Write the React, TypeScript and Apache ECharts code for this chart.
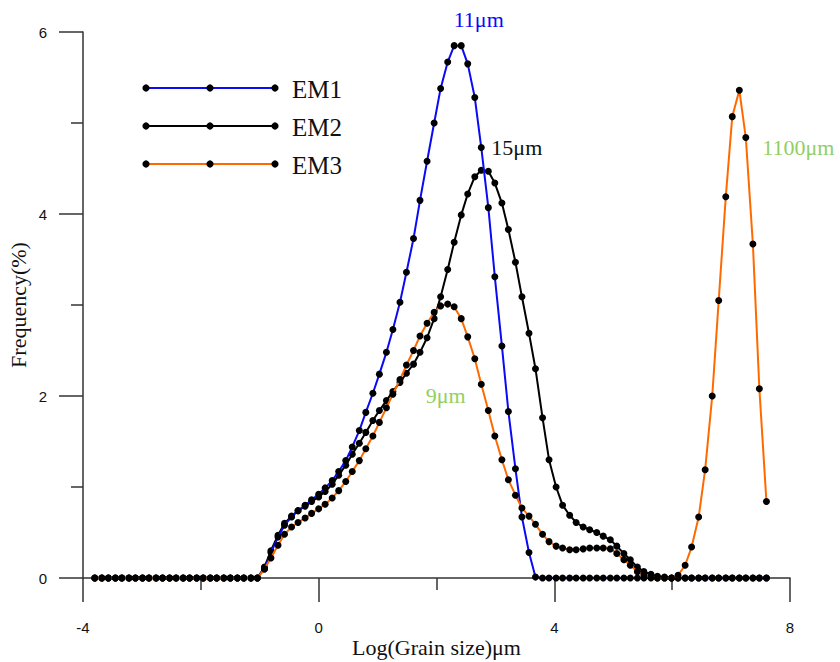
import React, { useEffect, useRef } from "react";
import * as echarts from "echarts";

// Log(grain size) bin positions (ln µm)
const xs = [
  -3.8, -3.68, -3.57, -3.45, -3.34, -3.22, -3.11, -2.99, -2.88, -2.76,
  -2.65, -2.53, -2.42, -2.3, -2.19, -2.07, -1.96, -1.84, -1.73, -1.61,
  -1.5, -1.38, -1.27, -1.15, -1.04, -0.92, -0.81, -0.69, -0.58, -0.46,
  -0.35, -0.23, -0.12, 0.0, 0.11, 0.23, 0.34, 0.46, 0.57, 0.69,
  0.8, 0.92, 1.03, 1.15, 1.26, 1.38, 1.49, 1.61, 1.72, 1.84,
  1.96, 2.07, 2.19, 2.3, 2.42, 2.53, 2.65, 2.76, 2.88, 2.99,
  3.11, 3.22, 3.34, 3.45, 3.57, 3.68, 3.8, 3.91, 4.03, 4.14,
  4.26, 4.37, 4.49, 4.6, 4.72, 4.83, 4.95, 5.06, 5.18, 5.29,
  5.41, 5.52, 5.64, 5.75, 5.87, 5.99, 6.1, 6.22, 6.33, 6.45,
  6.56, 6.68, 6.79, 6.91, 7.02, 7.14, 7.25, 7.37, 7.48, 7.6,
];

const em1 = [
  0, 0, 0, 0, 0, 0, 0, 0, 0, 0,
  0, 0, 0, 0, 0, 0, 0, 0, 0, 0,
  0, 0, 0, 0, 0, 0.1, 0.28, 0.45, 0.58, 0.67,
  0.74, 0.8, 0.86, 0.92, 0.99, 1.07, 1.17, 1.29, 1.44, 1.62,
  1.82, 2.03, 2.24, 2.48, 2.73, 3.03, 3.36, 3.73, 4.15, 4.58,
  5.0, 5.38, 5.67, 5.85, 5.85, 5.65, 5.28, 4.73, 4.07, 3.31,
  2.55, 1.83, 1.2, 0.67, 0.28, 0.01, 0, 0, 0, 0,
  0, 0, 0, 0, 0, 0, 0, 0, 0, 0,
  0, 0, 0, 0, 0, 0, 0, 0, 0, 0,
  0, 0, 0, 0, 0, 0, 0, 0, 0, 0,
];

const em2 = [
  0, 0, 0, 0, 0, 0, 0, 0, 0, 0,
  0, 0, 0, 0, 0, 0, 0, 0, 0, 0,
  0, 0, 0, 0, 0, 0.12, 0.3, 0.47, 0.6, 0.68,
  0.74, 0.79, 0.84, 0.89, 0.95, 1.03, 1.13, 1.24, 1.36, 1.48,
  1.6, 1.73, 1.84, 1.95, 2.05, 2.15, 2.25, 2.35, 2.48, 2.64,
  2.85, 3.09, 3.39, 3.69, 3.99, 4.22, 4.41, 4.48, 4.47, 4.34,
  4.12, 3.83, 3.47, 3.09, 2.69, 2.3, 1.76, 1.3, 1.0, 0.8,
  0.69, 0.61, 0.56, 0.53, 0.5, 0.46, 0.42, 0.35, 0.27, 0.2,
  0.12, 0.07, 0.04, 0.02, 0.01, 0, 0, 0, 0, 0,
  0, 0, 0, 0, 0, 0, 0, 0, 0, 0,
];

const em3 = [
  0, 0, 0, 0, 0, 0, 0, 0, 0, 0,
  0, 0, 0, 0, 0, 0, 0, 0, 0, 0,
  0, 0, 0, 0, 0, 0.1, 0.22, 0.36, 0.48, 0.56,
  0.61, 0.66, 0.71, 0.76, 0.81, 0.88, 0.96, 1.06, 1.17, 1.29,
  1.42, 1.56, 1.71, 1.87, 2.02, 2.18, 2.34, 2.5, 2.66, 2.8,
  2.92, 2.99, 3.01, 2.98, 2.85, 2.65, 2.41, 2.13, 1.84, 1.56,
  1.3, 1.08, 0.91, 0.77, 0.68, 0.59, 0.48, 0.4, 0.35, 0.33,
  0.31, 0.31, 0.32, 0.33, 0.33, 0.33, 0.32, 0.27, 0.2, 0.14,
  0.07, 0.03, 0.01, 0, 0, 0, 0.03, 0.14, 0.34, 0.67,
  1.19, 2.0, 3.05, 4.19, 5.07, 5.36, 4.84, 3.67, 2.08, 0.84,
];

const seriesNames = ["EM1", "EM2", "EM3"];
const seriesColors = ["#0a0af5", "#000000", "#ff6a00"];

// annotation texts and the peaks they refer to
const peakLabels = ["11μm", "15μm", "9μm", "1100μm"];
const peakCoords: [number, number][] = [
  [2.36, 5.85],
  [2.82, 4.48],
  [2.19, 3.01],
  [7.14, 5.36],
];

const SERIF = "'Liberation Serif', 'Times New Roman', serif";
const SANS = "'Liberation Sans', Arial, sans-serif";
const GREEN = "#92cf62";

function pairs(v: number[]) {
  return xs.map((x, i) => [x, v[i]]);
}

function mark(i: number, color: string, offset: [number, number]) {
  return {
    coord: peakCoords[i],
    symbol: "circle",
    symbolSize: 0,
    label: {
      show: true,
      formatter: peakLabels[i],
      color,
      fontFamily: SERIF,
      fontSize: 22,
      offset,
      position: "inside",
    },
  };
}

export default function App() {
  const ref = useRef<HTMLDivElement>(null);
  useEffect(() => {
    document.body.style.margin = "0";
    if (!ref.current) return;
    const chart = echarts.init(ref.current, undefined, { renderer: "svg" });

    const legendY = [88, 126, 164];
    const legendEls: any[] = [];
    seriesNames.forEach((n, k) => {
      const y = legendY[k];
      legendEls.push({
        type: "line",
        shape: { x1: 146, y1: y, x2: 275, y2: y },
        style: { stroke: seriesColors[k], lineWidth: 2.2 },
      });
      [146, 210, 275].forEach((cx) =>
        legendEls.push({
          type: "circle",
          shape: { cx, cy: y, r: 3.6 },
          style: { fill: "#000" },
        })
      );
      legendEls.push({
        type: "text",
        x: 292,
        y: y + 1,
        style: {
          text: n,
          fontFamily: SERIF,
          fontSize: 25,
          fill: "#111",
          verticalAlign: "middle",
          align: "left",
        },
      });
    });

    const baseSeries = (k: number, data: number[], z: number, markData: any[]) => ({
      type: "line",
      name: seriesNames[k],
      data: pairs(data),
      z,
      smooth: false,
      symbol: "circle",
      symbolSize: 7,
      showAllSymbol: true,
      lineStyle: { color: seriesColors[k], width: 2 },
      itemStyle: { color: "#000" },
      emphasis: { disabled: true },
      markPoint: { silent: true, data: markData },
    });

    const axisCommon = {
      axisTick: { show: true, inside: false, length: 24, lineStyle: { color: "#333", width: 1.5 } },
      minorTick: { show: true, splitNumber: 2, length: 12, lineStyle: { color: "#333", width: 1.5 } },
      splitLine: { show: false },
      minorSplitLine: { show: false },
    };

    chart.setOption({
      animation: false,
      backgroundColor: "#fff",
      grid: {
        left: 83,
        right: 50,
        top: 32,
        bottom: 84,
        containLabel: false,
        outerBoundsMode: "none",
      },
      xAxis: {
        type: "value",
        min: -4,
        max: 8,
        interval: 4,
        name: "Log(Grain size)μm",
        nameLocation: "middle",
        nameGap: 58,
        nameMoveOverlap: false,
        nameTextStyle: { fontFamily: SERIF, fontSize: 22, lineHeight: 22, color: "#111" },
        axisLine: { show: true, onZero: false, lineStyle: { color: "#333", width: 1.5 } },
        ...axisCommon,
        axisLabel: { margin: 42, fontFamily: SANS, fontSize: 15, color: "#111" },
      },
      yAxis: {
        type: "value",
        min: 0,
        max: 6,
        interval: 2,
        name: "Frequency(%)",
        nameLocation: "middle",
        nameGap: 54,
        nameMoveOverlap: false,
        nameTextStyle: { fontFamily: SERIF, fontSize: 22, lineHeight: 22, color: "#111" },
        axisLine: { show: true, onZero: false, lineStyle: { color: "#333", width: 1.5 } },
        ...axisCommon,
        axisLabel: { margin: 36, fontFamily: SANS, fontSize: 15, color: "#111" },
      },
      graphic: legendEls,
      series: [
        baseSeries(1, em2, 2, [mark(1, "#111", [32, -23])]),
        baseSeries(0, em1, 3, [mark(0, "#0a0af5", [21, -26])]),
        baseSeries(2, em3, 4, [mark(2, GREEN, [-2, 91]), mark(3, GREEN, [59, 57])]),
      ],
    });
    return () => chart.dispose();
  }, []);
  return (
    <div
      ref={ref}
      style={{ position: "fixed", left: 0, top: 0, width: 840, height: 662, background: "#fff" }}
    />
  );
}
